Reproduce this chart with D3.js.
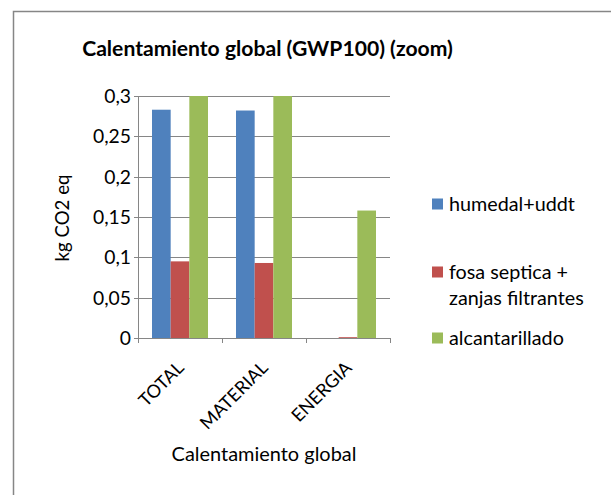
<!DOCTYPE html>
<html><head><meta charset="utf-8">
<script src="https://cdn.jsdelivr.net/npm/d3@7"></script>
<style>body{margin:0;background:#fff}svg{display:block}text{font-family:Lato,"Open Sans",sans-serif;fill:#000}</style>
</head><body>
<script>
const categories = ["TOTAL", "MATERIAL", "ENERGIA"];
const seriesNames = ["humedal+uddt", "fosa septica + zanjas filtrantes", "alcantarillado"];
const humedal = [0.283, 0.282, 0.0];
const fosa = [0.095, 0.093, 0.001];
const alcantarillado = [0.3, 0.3, 0.158];
const yTicks = [0, 0.05, 0.1, 0.15, 0.2, 0.25, 0.3];
const colors = ["#4F81BD", "#C0504D", "#9BBB59"];
const seriesValues = [humedal, fosa, alcantarillado];

const W = 611, H = 495;
const svg = d3.select("body").append("svg").attr("width", W).attr("height", H);

function fitSize(text, target, weight) {
  const t = svg.append("text").attr("font-size", 20).attr("font-weight", weight || "normal").text(text);
  const w = t.node().getComputedTextLength();
  t.remove();
  return 20 * target / w;
}

// outer border
svg.append("rect").attr("x", 13.5).attr("y", 11.5).attr("width", 700).attr("height", 600)
  .attr("fill", "none").attr("stroke", "#868686").attr("stroke-width", 1.5);

const plot = {l: 138, r: 390, t: 96, b: 338};
const x0 = d3.scaleBand().domain(categories).range([plot.l, plot.r]).paddingInner(1/3).paddingOuter(1/6);
const x1 = d3.scaleBand().domain(d3.range(seriesNames.length)).range([0, x0.bandwidth()]);
const y = d3.scaleLinear().domain([0, 0.3]).range([plot.b, plot.t]).clamp(true);
const step = x0.step();

// gridlines
svg.append("g").selectAll("line").data(yTicks).join("line")
  .attr("x1", plot.l - 4).attr("x2", plot.r)
  .attr("y1", d => Math.round(y(d)) + 0.5).attr("y2", d => Math.round(y(d)) + 0.5)
  .attr("stroke", "#868686").attr("stroke-width", 1);

// y axis line
svg.append("line").attr("x1", plot.l + 0.5).attr("x2", plot.l + 0.5).attr("y1", plot.t).attr("y2", plot.b)
  .attr("stroke", "#868686");

// bars
const groups = svg.append("g").selectAll("g").data(categories).join("g")
  .attr("transform", d => `translate(${x0(d)},0)`);
groups.selectAll("rect").data((c, ci) => seriesValues.map((v, si) => ({si, v: v[ci]}))).join("rect")
  .attr("x", d => x1(d.si)).attr("width", x1.bandwidth())
  .attr("y", d => y(d.v)).attr("height", d => y(0) - y(d.v))
  .attr("fill", d => colors[d.si]);

// x axis ticks
const bounds = d3.range(categories.length + 1).map(i => plot.l + i * step);
svg.append("g").selectAll("line").data(bounds).join("line")
  .attr("x1", d => Math.round(d) + 0.5).attr("x2", d => Math.round(d) + 0.5)
  .attr("y1", plot.b).attr("y2", plot.b + 5).attr("stroke", "#868686");
svg.append("line").attr("x1", plot.l).attr("x2", plot.r).attr("y1", plot.b + 0.5).attr("y2", plot.b + 0.5)
  .attr("stroke", "#868686");

// y tick labels
const fmt = d => String(d).replace(".", ",");
const tickFs = fitSize("0,25", 38);
svg.append("g").selectAll("text").data(yTicks).join("text")
  .attr("x", 131).attr("y", d => y(d)).attr("dy", "0.36em")
  .attr("text-anchor", "end").attr("font-size", tickFs).text(fmt);

// x tick labels
const catFs = fitSize("TOTAL", 55);
svg.append("g").selectAll("text").data(categories).join("text")
  .attr("text-anchor", "end").attr("font-size", catFs)
  .attr("transform", d => `translate(${x0(d) + x0.bandwidth() / 2 + 5},${plot.b + 31}) rotate(-45)`)
  .text(d => d);

// title
const titleText = "Calentamiento global (GWP100) (zoom)";
svg.append("text").attr("x", 267.5).attr("y", 56).attr("text-anchor", "middle")
  .attr("font-weight", "bold").attr("font-size", fitSize(titleText, 371, "bold")).text(titleText);

// axis titles
svg.append("text").attr("x", 264).attr("y", 461).attr("text-anchor", "middle")
  .attr("font-size", fitSize("Calentamiento global", 185)).text("Calentamiento global");
svg.append("text").attr("transform", "translate(69,218) rotate(-90)").attr("text-anchor", "middle")
  .attr("font-size", fitSize("kg CO2 eq", 87)).text("kg CO2 eq");

// legend
const legFs = fitSize("humedal+uddt", 126);
const leg = [
  {lines: ["humedal+uddt"], y: 204},
  {lines: ["fosa septica +", "zanjas filtrantes"], y: 272},
  {lines: ["alcantarillado"], y: 338}
];
const lg = svg.append("g");
leg.forEach((it, i) => {
  lg.append("rect").attr("x", 432).attr("y", it.y - 5.5).attr("width", 11).attr("height", 11).attr("fill", colors[i]);
  it.lines.forEach((ln, j) => {
    lg.append("text").attr("x", 449).attr("y", it.y + j * 26).attr("dy", "0.36em")
      .attr("font-size", legFs).text(ln);
  });
});
</script>
</body></html>
